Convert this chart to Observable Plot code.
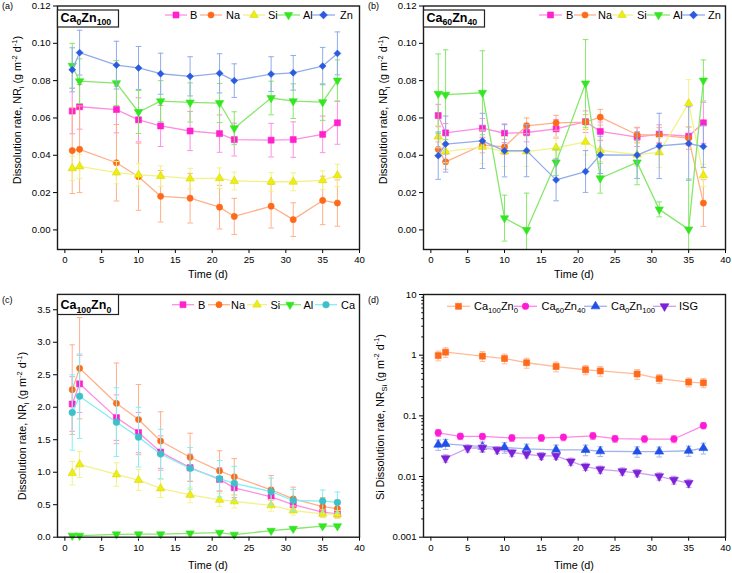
<!DOCTYPE html>
<html><head><meta charset="utf-8">
<script src="https://cdn.jsdelivr.net/npm/d3@7"></script>
<script src="https://cdn.jsdelivr.net/npm/@observablehq/plot@0.6"></script>
<style>
body{margin:0;background:#fff;}
#wrap{position:relative;width:732px;height:573px;overflow:hidden;font-family:"Liberation Sans",Arial,sans-serif;}
#wrap svg{position:absolute;}
</style></head><body><div id="wrap"></div>
<script>
// ---------- DATA ----------
const time = [1,2,7,10,13,17,21,23,28,31,35,37];
const xTicks = [0,5,10,15,20,25,30,35,40];

// (a) Ca0Zn100
const aB     = [0.0637,0.0660,0.0645,0.0590,0.0557,0.0530,0.0516,0.0484,0.0481,0.0484,0.0512,0.0574];
const aBErr  = [0.0122,0.0120,0.0125,0.0118,0.0110,0.0105,0.0100,0.0088,0.0090,0.0095,0.0098,0.0115];
const aNa    = [0.0425,0.0432,0.0360,0.0285,0.0180,0.0170,0.0122,0.0072,0.0127,0.0055,0.0158,0.0144];
const aNaErr = [0.0230,0.0232,0.0205,0.0180,0.0138,0.0133,0.0117,0.0097,0.0117,0.0090,0.0130,0.0124];
const aSi    = [0.0330,0.0340,0.0307,0.0295,0.0288,0.0275,0.0277,0.0262,0.0258,0.0258,0.0266,0.0292];
const aSiErr = [0.0065,0.0065,0.0060,0.0060,0.0055,0.0055,0.0055,0.0048,0.0050,0.0048,0.0050,0.0060];
const aAl    = [0.0880,0.0797,0.0787,0.0632,0.0690,0.0683,0.0680,0.0545,0.0707,0.0690,0.0685,0.0801];
const aAlErr = [0.0120,0.0120,0.0120,0.0115,0.0110,0.0105,0.0105,0.0088,0.0090,0.0093,0.0098,0.0110];
const aZn    = [0.0858,0.0950,0.0883,0.0868,0.0837,0.0823,0.0839,0.0800,0.0835,0.0842,0.0878,0.0946];
const aZnErr = [0.0118,0.0120,0.0128,0.0115,0.0110,0.0105,0.0105,0.0090,0.0093,0.0093,0.0100,0.0115];

// (b) Ca60Zn40
const bB     = [0.0613,0.0520,0.0545,0.0518,0.0522,0.0542,0.0580,0.0528,0.0497,0.0513,0.0502,0.0574];
const bBErr  = [0.0060,0.0050,0.0052,0.0050,0.0050,0.0050,0.0058,0.0050,0.0050,0.0050,0.0050,0.0110];
const bNa    = [0.0432,0.0365,0.0455,0.0445,0.0558,0.0574,0.0578,0.0604,0.0510,0.0508,0.0492,0.0144];
const bNaErr = [0.0040,0.0040,0.0042,0.0040,0.0042,0.0040,0.0040,0.0042,0.0040,0.0040,0.0060,0.0125];
const bSi    = [0.0500,0.0420,0.0445,0.0420,0.0420,0.0440,0.0472,0.0427,0.0403,0.0415,0.0678,0.0292];
const bSiErr = [0.0060,0.0060,0.0090,0.0080,0.0080,0.0060,0.0070,0.0060,0.0060,0.0080,0.0127,0.0060];
const bAl    = [0.0730,0.0725,0.0735,0.0063,0.0000,0.0362,0.0785,0.0277,0.0362,0.0110,0.0003,0.0801];
const bAlErr = [0.0213,0.0240,0.0225,0.0123,0.0197,0.0070,0.0235,0.0080,0.0120,0.0040,0.0270,0.0110];
const bZn    = [0.0398,0.0460,0.0477,0.0424,0.0425,0.0268,0.0313,0.0402,0.0401,0.0450,0.0463,0.0447];
const bZnErr = [0.0127,0.0150,0.0148,0.0140,0.0140,0.0112,0.0112,0.0100,0.0125,0.0175,0.0197,0.0112];

// (c) Ca100Zn0
const cB     = [2.05,2.36,1.84,1.61,1.31,1.07,0.89,0.76,0.62,0.50,0.385,0.36];
const cBErr  = [0.42,0.44,0.35,0.31,0.25,0.21,0.18,0.15,0.12,0.10,0.08,0.07];
const cNa    = [2.27,2.60,2.06,1.81,1.48,1.23,1.02,0.93,0.73,0.59,0.47,0.44];
const cNaErr = [0.69,0.78,0.62,0.54,0.45,0.37,0.31,0.28,0.22,0.18,0.14,0.13];
const cSi    = [0.985,1.12,0.965,0.88,0.75,0.65,0.575,0.55,0.49,0.41,0.36,0.35];
const cSiErr = [0.18,0.20,0.18,0.16,0.14,0.12,0.10,0.10,0.09,0.07,0.06,0.06];
const cAl    = [0.025,0.025,0.045,0.046,0.046,0.060,0.070,0.040,0.100,0.130,0.170,0.170];
const cAlErr = [0.01,0.01,0.01,0.01,0.01,0.01,0.01,0.01,0.015,0.015,0.02,0.02];
const cCa    = [1.92,2.17,1.77,1.54,1.28,1.06,0.90,0.83,0.70,0.565,0.555,0.535];
const cCaErr = [0.58,0.65,0.53,0.46,0.38,0.32,0.28,0.26,0.21,0.17,0.17,0.16];

// (d) Si dissolution rate (log)
const dTime100   = [1,2,7,10,13,17,21,23,28,31,35,37];
const dCa100     = [0.985,1.12,0.965,0.88,0.75,0.65,0.575,0.55,0.49,0.41,0.36,0.35];
const dCa100Err  = [0.18,0.20,0.18,0.16,0.14,0.12,0.10,0.10,0.09,0.07,0.06,0.06];
const dTime60    = [1,4,7,11,15,18,22,25,29,33,37];
const dCa60      = [0.0525,0.0460,0.0458,0.0433,0.0433,0.0443,0.0468,0.0420,0.0415,0.0415,0.0690];
const dCa60Err   = [0.0070,0.0055,0.0055,0.0055,0.0055,0.0055,0.0060,0.0055,0.0055,0.0055,0.0080];
const dTime0     = [1,2,7,10,13,17,21,23,28,31,35,37];
const dCa0       = [0.0335,0.0345,0.0310,0.0302,0.0286,0.0275,0.0275,0.0261,0.0258,0.0258,0.0266,0.0295];
const dCa0Err    = [0.0065,0.0065,0.0060,0.0060,0.0055,0.0055,0.0055,0.0048,0.0050,0.0048,0.0050,0.0060];
const dTimeISG   = [2,5,7,9,11,13,15,17,19,21,23,26,28,31,33,35];
const dISG       = [0.0200,0.0293,0.0298,0.0275,0.0249,0.0233,0.0219,0.0219,0.0177,0.0146,0.0131,0.0122,0.0115,0.0101,0.0088,0.0078];
const dISGErr    = [0.0028,0.0040,0.0040,0.0038,0.0034,0.0031,0.0029,0.0029,0.0024,0.0020,0.0018,0.0017,0.0016,0.0014,0.0013,0.0012];
const dMinorTicks = [0.002,0.003,0.004,0.005,0.006,0.007,0.008,0.009,0.02,0.03,0.04,0.05,0.06,0.07,0.08,0.09,0.2,0.3,0.4,0.5,0.6,0.7,0.8,0.9,2,3,4,5,6,7,8,9];

// ---------- STYLE ----------
const FONT = '"Liberation Sans", Arial, sans-serif';
const sqrt3 = Math.sqrt(3);
const triDown = {draw(ctx, size){ const y = -Math.sqrt(size/(sqrt3*3)); ctx.moveTo(0,-y*2); ctx.lineTo(-sqrt3*y,y); ctx.lineTo(sqrt3*y,y); ctx.closePath(); }};
const capSym = {draw(ctx, size){ const w = Math.sqrt(size/Math.PI); ctx.moveTo(-w,0); ctx.lineTo(w,0); }};
const minorSym = {draw(ctx, size){ const w = Math.sqrt(size/Math.PI); ctx.moveTo(-w,0); ctx.lineTo(0,0); }};
const d3sym = {square: d3.symbolSquare, circle: d3.symbolCircle, triangle: d3.symbolTriangle, diamond2: {draw(ctx,size){const r=Math.sqrt(size/2); ctx.moveTo(0,-r); ctx.lineTo(r,0); ctx.lineTo(0,r); ctx.lineTo(-r,0); ctx.closePath();}}};

const C = {
  B:  {color:"#ff22cc", light:"#ff8ee0", symbol:"square",   r:3.4},
  Na: {color:"#ff6a1a", light:"#ffb08a", symbol:"circle",   r:3.1},
  Si: {color:"#eeee10", light:"#f2f28a", symbol:"triangle", r:3.1, edge:"#d6d600"},
  Al: {color:"#33e622", light:"#86e86a", symbol:triDown,    r:3.1},
  Zn: {color:"#2a5ae0", light:"#92acea", symbol:"diamond2", r:3.1},
  Ca: {color:"#3fbfc8", light:"#86eef0", symbol:"circle",   r:3.3},
  S100:{color:"#ff6a1a", light:"#ffbb99", symbol:"square",  r:3.4},
  S60: {color:"#ff1ad6", light:"#ff88e6", symbol:"circle",  r:3.3},
  S0:  {color:"#2050e8", light:"#a0b4ea", symbol:"triangle",r:3.3},
  ISG: {color:"#7b22d8", light:"#cfa0f0", symbol:triDown,   r:3.3}
};

function makePanel(cfg){
  const marks = [];
  const log = cfg.yType === "log";
  for (const s of cfg.series){
    const st = C[s.key];
    const data = s.x.map((x,i)=>({x, y:s.y[i], lo: log ? Math.max(1e-4, s.y[i]-s.e[i]) : s.y[i]-s.e[i], hi: s.y[i]+s.e[i]}));
    marks.push(Plot.ruleX(data,{x:"x",y1:"lo",y2:"hi",stroke:st.light,strokeWidth:1,clip:true}));
    marks.push(Plot.dot(data,{x:"x",y:"hi",symbol:capSym,r:2.8,stroke:st.light,fill:"none",strokeWidth:1,clip:true}));
    marks.push(Plot.dot(data,{x:"x",y:"lo",symbol:capSym,r:2.8,stroke:st.light,fill:"none",strokeWidth:1,clip:true}));
    marks.push(Plot.line(data,{x:"x",y:"y",stroke:st.light,strokeWidth:1.3,clip:true}));
    marks.push(Plot.dot(data,{x:"x",y:"y",symbol:st.symbol,r:st.r,fill:st.color,stroke:st.edge||st.color,strokeWidth:0.6}));
  }
  if (cfg.minor) marks.push(Plot.dot(cfg.minor,{y:d=>d,frameAnchor:"left",symbol:minorSym,r:2.2,stroke:"#000",strokeWidth:1}));
  marks.push(Plot.frame({stroke:"#1a1a1a",strokeWidth:1.4}));
  const svg = Plot.plot({
    width: 366, height: cfg.height,
    marginLeft: 57, marginRight: 7, marginTop: cfg.mt, marginBottom: cfg.mb,
    style: {fontFamily: FONT, fontSize: "9.6px", color: "#000", background: "transparent", overflow: "visible"},
    x: {domain:[-1,40], ticks: xTicks, tickSize: 4, tickPadding: 3, label: null},
    y: {type: cfg.yType || "linear", domain: cfg.yDomain, ticks: cfg.yTicks, tickFormat: cfg.yFormat, tickSize: 4, tickPadding: 3, label: null},
    marks
  });
  return svg;
}

function rich(textSel, parts, fs){
  let cur = 0;
  for (const [t, kind] of parts){
    const target = kind==="sub" ? 0.28*fs : kind==="sup" ? -0.38*fs : 0;
    const size = kind==="n" ? fs : 0.7*fs;
    textSel.append("tspan").attr("dy", target-cur).attr("font-size", size).text(t);
    cur = target;
  }
}

function decorate(svg, d){
  const g = d3.select(svg).append("g").attr("font-family", FONT).attr("fill","#000").attr("text-anchor","start");
  // panel tag
  g.append("text").attr("x",2).attr("y",d.tagY).attr("font-size",9).text(d.tag);
  // x label
  g.append("text").attr("x",208).attr("y",d.xlabY).attr("text-anchor","middle").attr("font-size",10.8).text("Time (d)");
  // y label
  const yt = g.append("text").attr("transform",`translate(${d.ylabX + 3.8},${d.ylabY}) rotate(-90)`).attr("text-anchor","middle").attr("font-size",10.8);
  rich(yt, d.ylab, 10.8);
  // title box
  if (d.title){
    g.append("rect").attr("x",57.5).attr("y",d.boxY).attr("width",61).attr("height",d.boxH).attr("fill","#fff").attr("stroke","#222").attr("stroke-width",1.2);
    const tt = g.append("text").attr("x",60.5).attr("y",d.boxY + d.boxH - 5.5).attr("font-size",12.5).attr("font-weight","bold");
    rich(tt, d.title, 12.5);
  }
  // legend
  for (const it of d.legend){
    const st = C[it.key];
    g.append("line").attr("x1",it.a).attr("x2",it.b).attr("y1",d.legY).attr("y2",d.legY).attr("stroke",st.light).attr("stroke-width",1.3);
    const type = typeof st.symbol === "string" ? d3sym[st.symbol] : st.symbol;
    g.append("path").attr("d", d3.symbol().type(type).size(Math.PI*st.r*st.r)()).attr("transform",`translate(${(it.a+it.b)/2},${d.legY})`).attr("fill",st.color).attr("stroke",st.edge||st.color).attr("stroke-width",0.6);
    const lt = g.append("text").attr("x",it.t).attr("y",d.legY+3.9).attr("font-size",11);
    rich(lt, it.label, 11);
  }
}

const wrap = document.getElementById("wrap");
const ylabA = [["Dissolution rate, NR","n"],["i","sub"],[" (g m","n"],["-2","sup"],[" d","n"],["-1","sup"],[")","n"]];
const ylabD = [["Si Dissolution rate, NR","n"],["Si","sub"],[" (g m","n"],["-2","sup"],[" d","n"],["-1","sup"],[")","n"]];
const fmt2 = d3.format(".2f"), fmt1 = d3.format(".1f");

const panels = [
  {pos:[0,0], cfg:{height:280, mt:5.5, mb:31, yDomain:[-0.0105,0.12], yTicks:[0,0.02,0.04,0.06,0.08,0.10,0.12], yFormat:fmt2,
    series:[{key:"B",x:time,y:aB,e:aBErr},{key:"Na",x:time,y:aNa,e:aNaErr},{key:"Si",x:time,y:aSi,e:aSiErr},{key:"Al",x:time,y:aAl,e:aAlErr},{key:"Zn",x:time,y:aZn,e:aZnErr}]},
   deco:{tag:"(a)", tagY:9, xlabY:278, ylabX:17, ylabY:110, ylab:ylabA, title:[["Ca","n"],["0","sub"],["Zn","n"],["100","sub"]], boxY:10, boxH:17, legY:15,
    legend:[{key:"B",a:165,b:187,t:190,label:[["B","n"]]},{key:"Na",a:200,b:222,t:226,label:[["Na","n"]]},{key:"Si",a:243,b:265,t:268,label:[["Si","n"]]},{key:"Al",a:277,b:300,t:303,label:[["Al","n"]]},{key:"Zn",a:312,b:335,t:340,label:[["Zn","n"]]}]}},
  {pos:[366,0], cfg:{height:280, mt:5.5, mb:31, yDomain:[-0.0105,0.12], yTicks:[0,0.02,0.04,0.06,0.08,0.10,0.12], yFormat:fmt2,
    series:[{key:"B",x:time,y:bB,e:bBErr},{key:"Na",x:time,y:bNa,e:bNaErr},{key:"Si",x:time,y:bSi,e:bSiErr},{key:"Al",x:time,y:bAl,e:bAlErr},{key:"Zn",x:time,y:bZn,e:bZnErr}]},
   deco:{tag:"(b)", tagY:9, xlabY:278, ylabX:17, ylabY:110, ylab:ylabA, title:[["Ca","n"],["60","sub"],["Zn","n"],["40","sub"]], boxY:10, boxH:17, legY:15,
    legend:[{key:"B",a:173,b:196,t:200,label:[["B","n"]]},{key:"Na",a:208,b:230,t:232,label:[["Na","n"]]},{key:"Si",a:245,b:267,t:271,label:[["Si","n"]]},{key:"Al",a:281,b:304,t:307,label:[["Al","n"]]},{key:"Zn",a:316,b:339,t:342,label:[["Zn","n"]]}]}},
  {pos:[0,280], cfg:{height:293, mt:14, mb:36.3, yDomain:[0,3.735], yTicks:[0,0.5,1,1.5,2,2.5,3,3.5], yFormat:fmt1,
    series:[{key:"B",x:time,y:cB,e:cBErr},{key:"Na",x:time,y:cNa,e:cNaErr},{key:"Si",x:time,y:cSi,e:cSiErr},{key:"Al",x:time,y:cAl,e:cAlErr},{key:"Ca",x:time,y:cCa,e:cCaErr}]},
   deco:{tag:"(c)", tagY:23, xlabY:289, ylabX:22, ylabY:146, ylab:ylabA, title:[["Ca","n"],["100","sub"],["Zn","n"],["0","sub"]], boxY:14.5, boxH:20, legY:24.7,
    legend:[{key:"B",a:172,b:194,t:198,label:[["B","n"]]},{key:"Na",a:208,b:230,t:231,label:[["Na","n"]]},{key:"Si",a:247,b:267,t:270.5,label:[["Si","n"]]},{key:"Al",a:279,b:301,t:303.5,label:[["Al","n"]]},{key:"Ca",a:315,b:337,t:341,label:[["Ca","n"]]}]}},
  {pos:[366,280], cfg:{height:293, mt:14, mb:36.3, yType:"log", yDomain:[0.001,10], yTicks:[0.001,0.01,0.1,1,10], yFormat:d=>String(d), minor:dMinorTicks,
    series:[{key:"S100",x:dTime100,y:dCa100,e:dCa100Err},{key:"S60",x:dTime60,y:dCa60,e:dCa60Err},{key:"S0",x:dTime0,y:dCa0,e:dCa0Err},{key:"ISG",x:dTimeISG,y:dISG,e:dISGErr}]},
   deco:{tag:"(d)", tagY:23, xlabY:289, ylabX:13.7, ylabY:137, ylab:ylabD, title:null, legY:26.3,
    legend:[{key:"S100",a:81,b:104,t:108,label:[["Ca","n"],["100","sub"],["Zn","n"],["0","sub"]]},{key:"S60",a:148,b:171,t:175.5,label:[["Ca","n"],["60","sub"],["Zn","n"],["40","sub"]]},{key:"S0",a:218,b:241,t:245,label:[["Ca","n"],["0","sub"],["Zn","n"],["100","sub"]]},{key:"ISG",a:287,b:310,t:313,label:[["ISG","n"]]}]}}
];

for (const p of panels){
  const svg = makePanel(p.cfg);
  svg.style.left = p.pos[0] + "px";
  svg.style.top = p.pos[1] + "px";
  svg.style.position = "absolute";
  wrap.appendChild(svg);
  decorate(svg, p.deco);
}
</script></body></html>
